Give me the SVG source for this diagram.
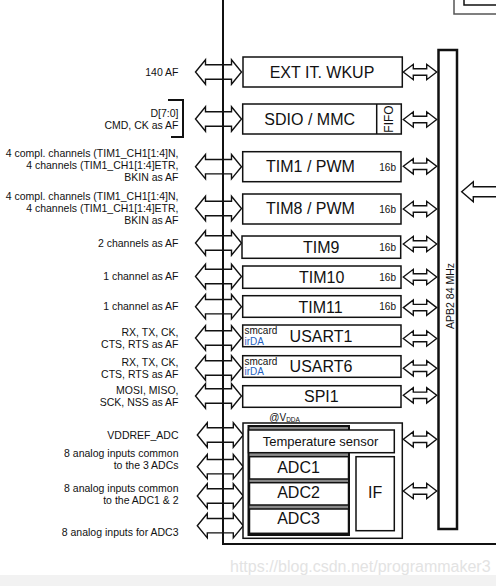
<svg xmlns="http://www.w3.org/2000/svg" xmlns:xlink="http://www.w3.org/1999/xlink" width="496" height="586" viewBox="0 0 496 586">
<style>
.lbl{font-family:"Liberation Sans",Arial,sans-serif;font-size:10.5px;fill:#111;text-anchor:end}
.bt{font-family:"Liberation Sans",Arial,sans-serif;font-size:16px;fill:#111;text-anchor:middle}
.sm{font-family:"Liberation Sans",Arial,sans-serif;font-size:10px;fill:#111}
.box{fill:#fff;stroke:#111;stroke-width:1.5}
.arr{fill:#fff;stroke:#111;stroke-width:1.4;stroke-linejoin:miter}
.ln{fill:none;stroke:#111;stroke-width:2}
</style>
<defs>
<path id="la" d="M195.5,0 L205.5,-12.2 L205.5,-7.2 L231.5,-7.2 L231.5,-12.2 L241.5,0 L231.5,12.2 L231.5,7.2 L205.5,7.2 L205.5,12.2 Z"/>
<path id="ra" d="M403.3,0 L413.3,-7.7 L413.3,-3.2 L426.7,-3.2 L426.7,-7.7 L436.7,0 L426.7,7.7 L426.7,3.2 L413.3,3.2 L413.3,7.7 Z"/>
</defs>
<rect x="0" y="0" width="496" height="586" fill="#fff"/>
<rect x="0" y="575" width="496" height="11" fill="#f2f2f2"/>
<text x="230" y="572" style="font-family:'Liberation Sans',Arial,sans-serif;font-size:16px;fill:#e3e3e3">https://blog.csdn.net/programmaker3</text>

<g id="topright">
<path d="M454,0 V14 H496" fill="none" stroke="#555" stroke-width="1.5"/>
<path d="M464,0 V5 H496" fill="none" stroke="#111" stroke-width="1.5"/>
</g>

<g id="connectors">
<g class="arr">
<use xlink:href="#la" y="72"/>
<use xlink:href="#la" y="119"/>
<use xlink:href="#la" y="166.7"/>
<use xlink:href="#la" y="208.5"/>
<use xlink:href="#la" y="243"/>
<use xlink:href="#la" y="276.5"/>
<use xlink:href="#la" y="306.7"/>
<use xlink:href="#la" y="338"/>
<use xlink:href="#la" y="368"/>
<use xlink:href="#la" y="396"/>
<use xlink:href="#la" x="1.8" y="435"/>
<use xlink:href="#la" x="1.8" y="466.7"/>
<use xlink:href="#la" x="1.8" y="496"/>
<use xlink:href="#la" x="1.8" y="525.7"/>
</g>
<g class="arr">
<use xlink:href="#ra" y="72"/>
<use xlink:href="#ra" y="119.5"/>
<use xlink:href="#ra" y="166.3"/>
<use xlink:href="#ra" y="209"/>
<use xlink:href="#ra" y="244"/>
<use xlink:href="#ra" y="277"/>
<use xlink:href="#ra" y="307.6"/>
<use xlink:href="#ra" y="338.5"/>
<use xlink:href="#ra" y="368.3"/>
<use xlink:href="#ra" y="395.3"/>
<use xlink:href="#ra" y="439.3"/>
<use xlink:href="#ra" y="491"/>
</g>
<path class="arr" d="M497,186.7 H473.3 V181.7 L461.7,191.7 L473.3,201.7 V196.7 H497"/>
<path class="ln" d="M223,0 V544 H497"/>
<path class="ln" d="M168,100 H183 V137 H171"/>
</g>

<g id="labels">
<text class="lbl" x="178.5" y="75.5">140 AF</text>
<text class="lbl" x="178.5" y="116.5">D[7:0]</text>
<text class="lbl" x="178.5" y="128.5">CMD, CK as AF</text>
<text class="lbl" x="178.5" y="157">4 compl. channels (TIM1_CH1[1:4]N,</text>
<text class="lbl" x="178.5" y="169">4 channels (TIM1_CH1[1:4]ETR,</text>
<text class="lbl" x="178.5" y="181">BKIN as AF</text>
<text class="lbl" x="178.5" y="199.5">4 compl. channels (TIM1_CH1[1:4]N,</text>
<text class="lbl" x="178.5" y="211.5">4 channels (TIM1_CH1[1:4]ETR,</text>
<text class="lbl" x="178.5" y="223.5">BKIN as AF</text>
<text class="lbl" x="178.5" y="246.5">2 channels as AF</text>
<text class="lbl" x="178.5" y="279.5">1 channel as AF</text>
<text class="lbl" x="178.5" y="310">1 channel as AF</text>
<text class="lbl" x="178.5" y="336">RX, TX, CK,</text>
<text class="lbl" x="178.5" y="348.3">CTS, RTS as AF</text>
<text class="lbl" x="178.5" y="366">RX, TX, CK,</text>
<text class="lbl" x="178.5" y="378.3">CTS, RTS as AF</text>
<text class="lbl" x="178.5" y="394">MOSI, MISO,</text>
<text class="lbl" x="178.5" y="406">SCK, NSS as AF</text>
<text class="lbl" x="178.5" y="438.5">VDDREF_ADC</text>
<text class="lbl" x="178.5" y="456.7">8 analog inputs common</text>
<text class="lbl" x="178.5" y="469.3">to the 3 ADCs</text>
<text class="lbl" x="178.5" y="491.7">8 analog inputs common</text>
<text class="lbl" x="178.5" y="504.3">to the ADC1 &amp; 2</text>
<text class="lbl" x="178.5" y="535.7">8 analog inputs for ADC3</text>
</g>

<g id="ext">
<rect class="box" x="243" y="57" width="159.3" height="30"/>
<text class="bt" x="322" y="77.5">EXT IT. WKUP</text>
</g>
<g id="sdio">
<rect class="box" x="242.7" y="104" width="158.6" height="30"/>
<line x1="376.7" y1="104" x2="376.7" y2="134" stroke="#111" stroke-width="1.5"/>
<text class="bt" x="309.7" y="125">SDIO / MMC</text>
<text transform="translate(393,119) rotate(-90)" style="font-family:'Liberation Sans',Arial,sans-serif;font-size:12px;fill:#111;text-anchor:middle">FIFO</text>
</g>
<g id="tim1">
<rect class="box" x="242.7" y="151.7" width="158.3" height="30"/>
<text class="bt" x="310.5" y="172.3">TIM1 / PWM</text>
<text class="sm" x="396" y="171" text-anchor="end">16b</text>
</g>
<g id="tim8">
<rect class="box" x="242.7" y="194" width="158.3" height="30"/>
<text class="bt" x="310.5" y="213.5">TIM8 / PWM</text>
<text class="sm" x="396" y="212.7" text-anchor="end">16b</text>
</g>
<g id="tim9">
<rect class="box" x="242" y="236" width="158.7" height="22.3"/>
<text class="bt" x="321.3" y="252.7">TIM9</text>
<text class="sm" x="396" y="250.5" text-anchor="end">16b</text>
</g>
<g id="tim10">
<rect class="box" x="242.7" y="266" width="158.3" height="22.3"/>
<text class="bt" x="321.7" y="282.7">TIM10</text>
<text class="sm" x="396" y="281" text-anchor="end">16b</text>
</g>
<g id="tim11">
<rect class="box" x="242.7" y="295.7" width="158.3" height="21.6"/>
<text class="bt" x="320.5" y="312.7">TIM11</text>
<text class="sm" x="396" y="310.3" text-anchor="end">16b</text>
</g>
<g id="usart1">
<rect class="box" x="242.7" y="325" width="158.3" height="21.7"/>
<text class="bt" x="321" y="342.3">USART1</text>
<text class="sm" x="244.5" y="334.3">smcard</text>
<text class="sm" x="244.5" y="344.5" style="fill:#1f5fbf">irDA</text>
</g>
<g id="usart6">
<rect class="box" x="242.7" y="355.7" width="158.3" height="21.6"/>
<text class="bt" x="321" y="372.3">USART6</text>
<text class="sm" x="244.5" y="365">smcard</text>
<text class="sm" x="244.5" y="375.2" style="fill:#1f5fbf">irDA</text>
</g>
<g id="spi1">
<rect class="box" x="242.7" y="385.7" width="158.3" height="21.6"/>
<text class="bt" x="321.3" y="402.3">SPI1</text>
</g>

<g id="adc">
<text x="269.3" y="420.5" style="font-family:'Liberation Sans',Arial,sans-serif;font-size:10px;fill:#111">@V<tspan font-size="6.5" dy="1">DDA</tspan></text>
<rect class="box" x="243" y="423" width="159.3" height="115.3"/>
<rect x="248.5" y="426" width="100.5" height="109" fill="#8a8a8a" stroke="#111" stroke-width="2"/>
<rect class="box" x="248.5" y="430" width="145.8" height="22.7"/>
<text x="320.5" y="445.5" style="font-family:'Liberation Sans',Arial,sans-serif;font-size:13px;fill:#111;text-anchor:middle">Temperature sensor</text>
<rect class="box" x="249.5" y="456.7" width="99" height="22.3"/>
<text class="bt" x="298.5" y="472.7">ADC1</text>
<rect class="box" x="249.5" y="482.7" width="99" height="22.3"/>
<text class="bt" x="298.5" y="498.3">ADC2</text>
<rect class="box" x="249.5" y="509" width="99" height="24.3"/>
<text class="bt" x="298.5" y="524.3">ADC3</text>
<rect class="box" x="356" y="456.7" width="38.3" height="74"/>
<text class="bt" x="375.2" y="498">IF</text>
</g>

<g id="apb2">
<rect x="438.5" y="50" width="18.5" height="479" fill="#fff" stroke="#111" stroke-width="2.5"/>
<text transform="translate(453.5,296) rotate(-90)" style="font-family:'Liberation Sans',Arial,sans-serif;font-size:10.5px;fill:#111;text-anchor:middle">APB2 84 MHz</text>
</g>
</svg>
